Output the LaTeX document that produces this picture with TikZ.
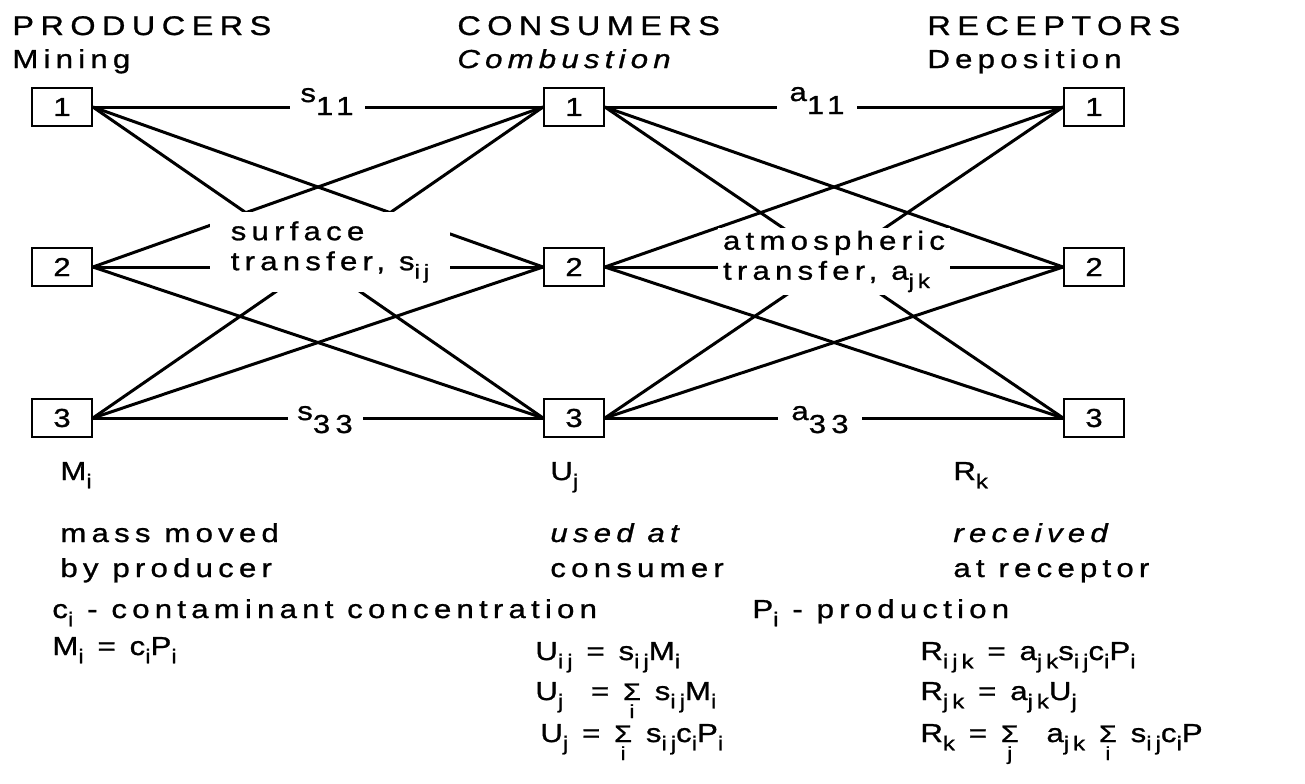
\documentclass[tikz,border=0pt]{standalone}
\usepackage{fontspec}
\setmainfont{Liberation Sans}[LetterSpace=20, FakeStretch=1.2, FakeBold=1]
\usetikzlibrary{positioning}
\newcommand{\bodysize}{\fontsize{13}{15}\selectfont}
\newcommand{\sbs}[1]{\raisebox{-0.32em}{\fontsize{10}{10}\selectfont #1}}
\newcommand{\low}[1]{\raisebox{-0.5em}{#1}}
\newcommand{\sumover}[1]{\ensuremath{\mathop{\hbox{\fontsize{12}{12}\selectfont Σ}}\limits_{\raisebox{-3pt}{\fontsize{9.5}{9.5}\selectfont #1}}}}

\begin{document}
\begin{tikzpicture}[x=0.5pt, y=-0.5pt, font=\bodysize,
  site/.style={draw, line width=0.9pt, minimum width=30pt, minimum height=19pt, inner sep=0pt},
  link/.style={line width=1.5pt},
  hdr/.style={anchor=base west, inner sep=0pt, font=\fontsize{13.5}{16}\selectfont\addfontfeature{LetterSpace=24}},
  txt/.style={anchor=base west, inner sep=0pt},
  slant/.style={font=\bodysize\itshape},
  cut/.style={fill=white, inner sep=0pt, align=left}]
  \useasboundingbox (0,0) rectangle (1305,783);
  % sources, users, receptors
  \foreach \n/\y in {1/107, 2/267, 3/418} {
    \node[site] (p\n) at (62,\y) {\n};
    \node[site] (c\n) at (574,\y) {\n};
    \node[site] (r\n) at (1094,\y) {\n};
  }
  % every pair is linked
  \foreach \i in {1,2,3} \foreach \j in {1,2,3} {
    \draw[link] (p\i.east) -- (c\j.west);
    \draw[link] (c\i.east) -- (r\j.west);
  }
  \node[cut, anchor=base, minimum width=37.5pt] (s11) at (327,102) {s\low{11}};
  \node[cut, anchor=base, minimum width=37.5pt] (s33) at (325,420) {s\low{33}};
  \node[cut, anchor=base, minimum width=40pt] (a11) at (817,101) {a\low{11}};
  \node[cut, anchor=base, minimum width=42pt] (a33) at (820,420) {a\low{33}};
  \node[cut, minimum width=120pt, minimum height=40pt] (surf) at (330,252) {surface\\transfer, s\sbs{ij}};
  \node[cut, minimum width=116pt, minimum height=33.5pt] (atm) at (834,261.5) {atmospheric\\transfer, a\sbs{jk}};
  % column heads
  \node[hdr] (prod) at (12,35) {PRODUCERS};
  \node[txt] (mine) at (12,68) {Mining};
  \node[hdr] (cons) at (457,35) {CONSUMERS};
  \node[txt, slant] (comb) at (457,68) {Combustion};
  \node[hdr] (rec) at (927,35) {RECEPTORS};
  \node[txt] (depo) at (927,68) {Deposition};
  % quantities
  \node[txt] (mi) at (60,480) {M\sbs{i}};
  \node[txt] (mm) at (60,542) {mass moved};
  \node[txt] (bp) at (60,577) {by producer};
  \node[txt] (uj) at (550,480) {U\sbs{j}};
  \node[txt, slant] (ua) at (550,542) {used at};
  \node[txt] (uc) at (550,577) {consumer};
  \node[txt] (rk) at (953,480) {R\sbs{k}};
  \node[txt, slant] (rr) at (953,542) {received};
  \node[txt] (ra) at (953,577) {at receptor};
  % relations
  \node[txt] (ci) at (52,618) {c\sbs{i} - contaminant concentration};
  \node[txt] (pi) at (752,618) {P\sbs{i} - production};
  \node[txt] (meq) at (52,655) {M\sbs{i} = c\sbs{i}P\sbs{i}};
  \node[txt] (ueqa) at (535,660) {U\sbs{ij} = s\sbs{ij}M\sbs{i}};
  \node[txt] (ueqb) at (535,700) {U\sbs{j} \ = \sumover{i} s\sbs{ij}M\sbs{i}};
  \node[txt] (ueqc) at (540,742) {U\sbs{j} = \sumover{i} s\sbs{ij}c\sbs{i}P\sbs{i}};
  \node[txt] (reqa) at (920,660) {R\sbs{ijk} = a\sbs{jk}s\sbs{ij}c\sbs{i}P\sbs{i}};
  \node[txt] (reqb) at (920,700) {R\sbs{jk} = a\sbs{jk}U\sbs{j}};
  \node[txt] (reqc) at (920,742) {R\sbs{k} = \sumover{j} \ a\sbs{jk} \sumover{i} s\sbs{ij}c\sbs{i}P};
\end{tikzpicture}
\end{document}
